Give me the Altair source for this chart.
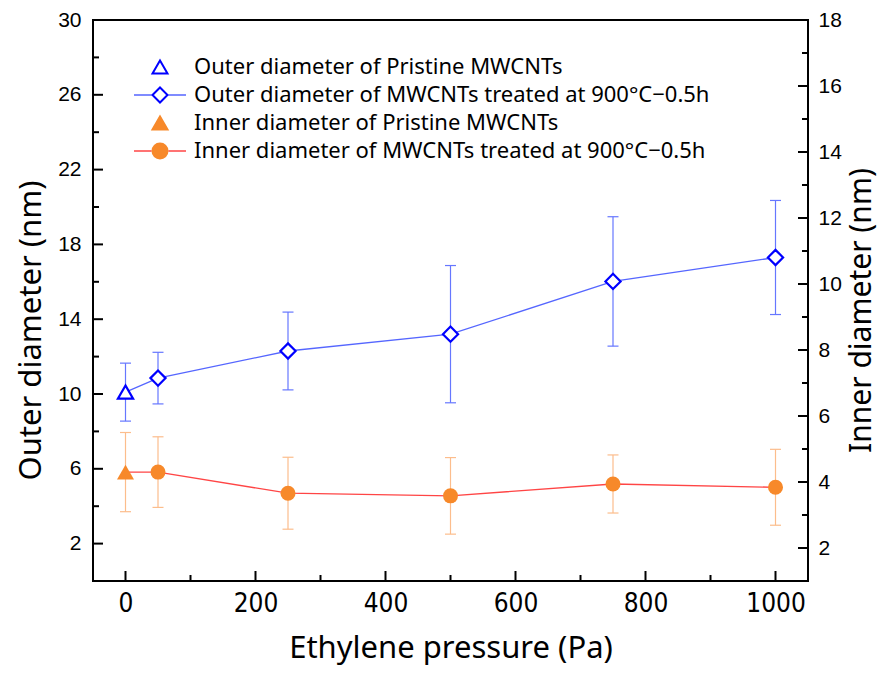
import altair as alt
import pandas as pd

# ---------------- data ----------------
pressure = [0, 50, 250, 500, 750, 1000]
outer_mean = [10.1, 10.85, 12.3, 13.2, 16.02, 17.3]
outer_err = [1.55, 1.38, 2.08, 3.67, 3.46, 3.05]
inner_mean = [4.3, 4.3, 3.66, 3.58, 3.94, 3.84]
inner_err = [1.2, 1.07, 1.09, 1.16, 0.88, 1.15]

series = [
    "Outer diameter of Pristine MWCNTs",
    "Outer diameter of MWCNTs treated at 900°C−0.5h",
    "Inner diameter of Pristine MWCNTs",
    "Inner diameter of MWCNTs treated at 900°C−0.5h",
]

x_major = [0, 200, 400, 600, 800, 1000]
x_minor = [100, 300, 500, 700, 900]
yo_major = [2, 6, 10, 14, 18, 22, 26, 30]
yo_minor = [4, 8, 12, 16, 20, 24, 28]
yi_major = [2, 4, 6, 8, 10, 12, 14, 16, 18]
yi_minor = [3, 5, 7, 9, 11, 13, 15, 17]

df = pd.DataFrame({
    "p": pressure,
    "outer": outer_mean,
    "olo": [m - e for m, e in zip(outer_mean, outer_err)],
    "ohi": [m + e for m, e in zip(outer_mean, outer_err)],
    "inner": inner_mean,
    "ilo": [m - e for m, e in zip(inner_mean, inner_err)],
    "ihi": [m + e for m, e in zip(inner_mean, inner_err)],
})
leg_df = pd.DataFrame({"series": series})

# ---------------- style ----------------
W, H = 715, 561
MAJ, MIN = 10, 6
BLUE = "#0000ff"
LINE_BLUE = "#5566ff"
ERR_BLUE = "#6677ff"
ORANGE = "#f7892a"
LINE_RED = "#ff4545"
ERR_ORANGE = "#fcbd8c"
SANS = "Noto Sans"
NARROW = "'Liberation Sans Narrow', 'DejaVu Sans Condensed', sans-serif"
ARIAL = "Liberation Sans"

xscale = alt.Scale(domain=[-50, 1050], nice=False, zero=False)
yo_scale = alt.Scale(domain=[0, 30], nice=False, zero=False)
yi_scale = alt.Scale(domain=[1, 18], nice=False, zero=False)

ax_x_labels = alt.Axis(orient="bottom", values=x_major, format="d", ticks=False, tickSize=0,
                       domain=False, grid=False, labelFont=NARROW, labelFontSize=26,
                       labelColor="black", labelPadding=9, labelFlush=False,
                       title="Ethylene pressure (Pa)", titleFont=SANS, titleFontSize=31,
                       titleFontWeight="normal", titleColor="black", titlePadding=17)

ay_o_labels = alt.Axis(orient="left", values=yo_major, ticks=False, tickSize=0,
                       domain=False, grid=False, labelFont=ARIAL, labelFontSize=21,
                       labelColor="black", labelPadding=12, labelFlush=False,
                       title="Outer diameter (nm)", titleFont=SANS, titleFontSize=31,
                       titleFontWeight="normal", titleColor="black", titlePadding=10,
                       titleY=310)

ay_i_labels = alt.Axis(orient="right", values=yi_major, ticks=False, tickSize=0,
                       domain=False, grid=False, labelFont=ARIAL, labelFontSize=21,
                       labelColor="black", labelPadding=10, labelFlush=False,
                       title="Inner diameter (nm)", titleFont=SANS, titleFontSize=30,
                       titleFontWeight="normal", titleColor="black", titlePadding=5,
                       titleAngle=270, titleBaseline="top", titleY=290)

base = alt.Chart(df)


def xfield(axis=None):
    return alt.X("p:Q", scale=xscale, axis=axis)


# ---------------- inward ticks (drawn from tick values through the scales) ----------------
def x_ticks(values, length):
    return alt.Chart(pd.DataFrame({"v": values})).mark_rule(color="black", strokeWidth=2).encode(
        x=alt.X("v:Q", scale=xscale, axis=None),
        y=alt.value(H), y2=alt.value(H - length))


def y_ticks(values, scale, length, right=False):
    x0 = W if right else 0
    x1 = W - length if right else length
    return alt.Chart(pd.DataFrame({"v": values})).mark_rule(color="black", strokeWidth=2).encode(
        y=alt.Y("v:Q", scale=scale, axis=None),
        x=alt.value(x0), x2=alt.value(x1))


# ---------------- outer diameter ----------------
o_line = base.mark_line(color=LINE_BLUE, strokeWidth=1.3).encode(
    x=xfield(ax_x_labels),
    y=alt.Y("outer:Q", scale=yo_scale, axis=ay_o_labels),
)
o_rule = base.mark_rule(color=ERR_BLUE, strokeWidth=1.2).encode(
    x=xfield(), y=alt.Y("olo:Q", scale=yo_scale, axis=None), y2="ohi:Q")
o_cap_lo = base.mark_tick(orient="horizontal", size=11, thickness=1.2, color=ERR_BLUE, opacity=1).encode(
    x=xfield(), y=alt.Y("olo:Q", scale=yo_scale, axis=None))
o_cap_hi = base.mark_tick(orient="horizontal", size=11, thickness=1.2, color=ERR_BLUE, opacity=1).encode(
    x=xfield(), y=alt.Y("ohi:Q", scale=yo_scale, axis=None))
o_pts = base.transform_filter("datum.p > 0").mark_point(
    shape="diamond", size=230, filled=False, fill="white", stroke=BLUE,
    strokeWidth=2.2, opacity=1).encode(
    x=xfield(), y=alt.Y("outer:Q", scale=yo_scale, axis=None))
o_pri = base.transform_filter("datum.p == 0").mark_point(
    shape="triangle-up", size=230, filled=False, fill="white", stroke=BLUE,
    strokeWidth=2.2, opacity=1).encode(
    x=xfield(), y=alt.Y("outer:Q", scale=yo_scale, axis=None))

# ---------------- inner diameter ----------------
i_line = base.mark_line(color=LINE_RED, strokeWidth=1.3).encode(
    x=xfield(), y=alt.Y("inner:Q", scale=yi_scale, axis=ay_i_labels))
i_rule = base.mark_rule(color=ERR_ORANGE, strokeWidth=1.2).encode(
    x=xfield(), y=alt.Y("ilo:Q", scale=yi_scale, axis=None), y2="ihi:Q")
i_cap_lo = base.mark_tick(orient="horizontal", size=11, thickness=1.2, color=ERR_ORANGE, opacity=1).encode(
    x=xfield(), y=alt.Y("ilo:Q", scale=yi_scale, axis=None))
i_cap_hi = base.mark_tick(orient="horizontal", size=11, thickness=1.2, color=ERR_ORANGE, opacity=1).encode(
    x=xfield(), y=alt.Y("ihi:Q", scale=yi_scale, axis=None))
i_pts = base.transform_filter("datum.p > 0").mark_point(
    shape="circle", size=225, filled=True, fill=ORANGE, strokeWidth=0, opacity=1).encode(
    x=xfield(), y=alt.Y("inner:Q", scale=yi_scale, axis=None))
i_pri = base.transform_filter("datum.p == 0").mark_point(
    shape="triangle-up", size=290, filled=True, fill=ORANGE, strokeWidth=0, opacity=1).encode(
    x=xfield(), y=alt.Y("inner:Q", scale=yi_scale, axis=None))

# ---------------- legend (line part + marker part) ----------------
legend_lines = alt.Legend(
    orient="none", legendX=40, legendY=33, title=None,
    symbolType="M-1,0L-0.32,0M0.32,0L1,0", symbolSize=2704, symbolStrokeWidth=1.3,
    symbolOpacity=1, clipHeight=28, rowPadding=0, padding=0,
    labelFont=SANS, labelFontSize=22, labelColor="black", labelOffset=7, labelLimit=700,
)
leg_a = alt.Chart(leg_df).mark_point(opacity=0, filled=False).encode(
    stroke=alt.Stroke("series:N", sort=series,
                      scale=alt.Scale(domain=series, range=["transparent", LINE_BLUE, "transparent", LINE_RED]),
                      legend=legend_lines),
)

legend_marks = alt.Legend(
    orient="none", legendX=56, legendY=33, title=None,
    symbolSize=225, symbolStrokeWidth=2, symbolOpacity=1, clipHeight=28,
    rowPadding=0, padding=0, labelFont=SANS, labelFontSize=22, labelExpr="''",
)
leg_b = alt.Chart(leg_df).mark_point(opacity=0, filled=True).encode(
    shape=alt.Shape("series:N", sort=series,
                    scale=alt.Scale(domain=series, range=["triangle-up", "diamond", "triangle-up", "circle"]),
                    legend=legend_marks),
    fill=alt.Fill("series:N", sort=series,
                  scale=alt.Scale(domain=series, range=["white", "white", ORANGE, ORANGE]),
                  legend=legend_marks),
    stroke=alt.Stroke("series:N", sort=series,
                      scale=alt.Scale(domain=series, range=[BLUE, BLUE, ORANGE, ORANGE]),
                      legend=legend_marks),
)

chart = alt.layer(
    o_line, i_line,
    o_rule, o_cap_lo, o_cap_hi, i_rule, i_cap_lo, i_cap_hi,
    o_pts, o_pri, i_pts, i_pri,
    x_ticks(x_major, MAJ), x_ticks(x_minor, MIN),
    y_ticks(yo_major, yo_scale, MAJ), y_ticks(yo_minor, yo_scale, MIN),
    y_ticks(yi_major, yi_scale, MAJ, right=True), y_ticks(yi_minor, yi_scale, MIN, right=True),
    leg_a, leg_b,
).resolve_scale(
    y="independent", stroke="independent", fill="independent", shape="independent"
).resolve_axis(
    x="independent", y="independent"
).properties(
    width=W, height=H,
    autosize=alt.AutoSizeParams(type="none"),
    padding={"left": 85, "top": 12, "right": 73, "bottom": 84},
    background="white",
).configure_view(stroke="black", strokeWidth=2)

chart.save("out.html", embed_options={"renderer": "svg", "actions": False})
